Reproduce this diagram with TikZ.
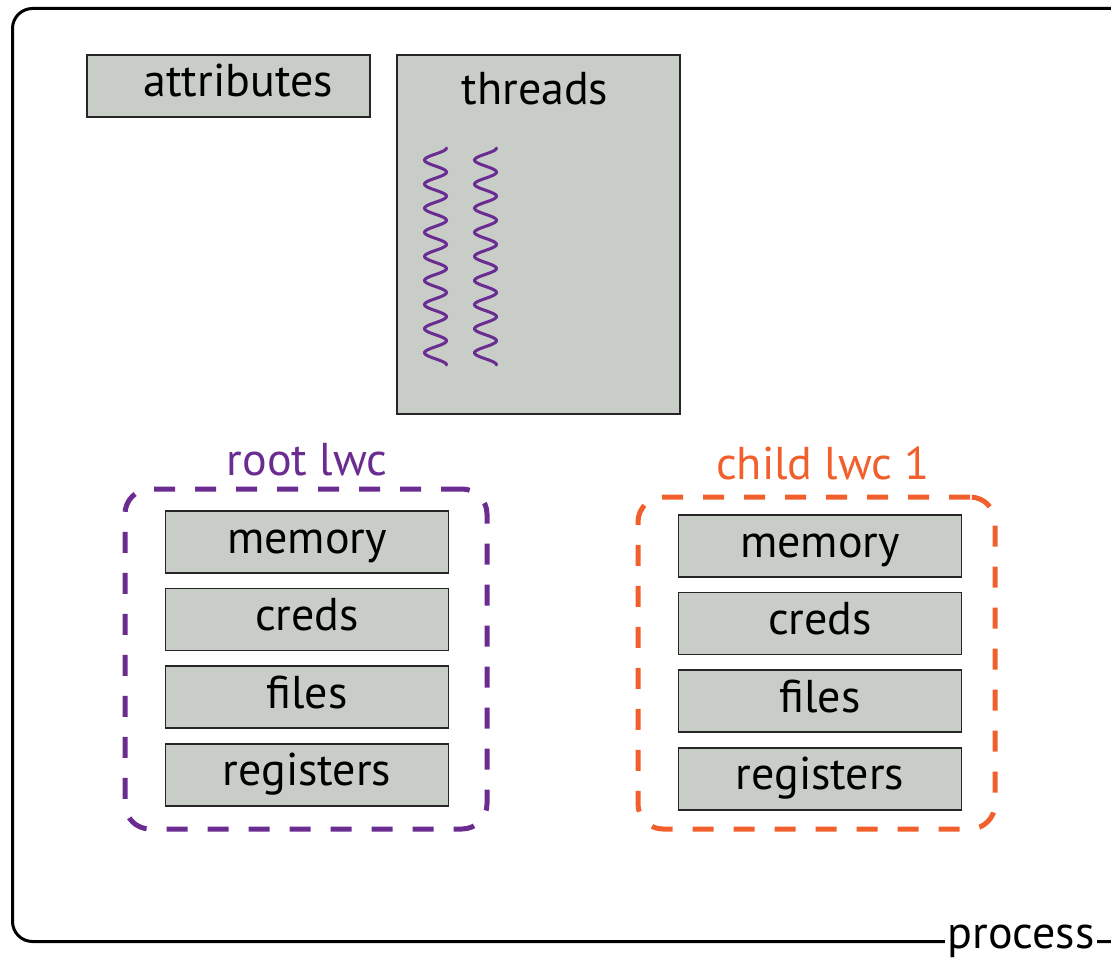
\documentclass[tikz,border=0pt]{standalone}
\usepackage{fontspec}
\setmainfont{PT Sans}
\usetikzlibrary{positioning}
\definecolor{boxgray}{RGB}{200,206,199}
\definecolor{lwcpurple}{RGB}{106,44,145}
\definecolor{lwcorange}{RGB}{241,96,44}
\newcommand{\bigtext}{\fontsize{46}{52}\selectfont}

\begin{document}
\begin{tikzpicture}[x=1pt, y=-1pt,
    part/.style={draw=black!85, line width=1.6pt, fill=boxgray, minimum width=283pt,
      minimum height=62pt, inner sep=0pt, text height=30pt, text depth=8pt, font=\bigtext},
    lwc/.style={line width=5pt, rounded corners=25pt, dash pattern=on 21pt off 20pt, inner sep=0pt},
    lwclabel/.style={anchor=base, inner sep=0pt, font=\bigtext},
    wave/.style={lwcpurple, line width=3pt, line cap=round}]
    \useasboundingbox (0,0) rectangle (1111,960);
    \clip (0,0) rectangle (1111,960);
    % the process
    \node[draw, line width=3pt, rounded corners=20pt, anchor=north west, inner sep=0pt,
      minimum width=1140pt, minimum height=933pt] (proc) at (11,7) {};
    \node[fill=white, anchor=base, inner xsep=3pt, inner ysep=2pt, font=\bigtext] (proclabel) at (1021,948) {process};
    % attributes and threads
    \node[part, anchor=north west, text width=283pt, align=center] (attributes) at (86,54) {\hspace*{20pt}attributes};
    \node[part, anchor=north west, minimum height=359pt] (threads) at (396,54) {};
    \node[lwclabel] (threadslabel) at (535,105) {threads};
    \foreach \cx in {435.5,485.5}
      \draw[wave] plot[domain=0:217, samples=220, smooth] ({\cx+11*cos(14.94*\x)}, {148+\x});
    % root lwc
    \node[lwc, draw=lwcpurple, minimum width=362pt, minimum height=340pt] (rootlwc) at (306,659) {};
    \node[lwclabel, text=lwcpurple] (rootlabel) at (307,475) {root lwc};
    \node[part] (rootmem) at (307,542) {memory};
    \node[part, below=14pt of rootmem] (rootcreds) {creds};
    \node[part, below=14pt of rootcreds] (rootfiles) {files};
    \node[part, below=14pt of rootfiles] (rootregs) {registers};
    % child lwc 1
    \node[lwc, draw=lwcorange, minimum width=357pt, minimum height=332pt] (childlwc) at (816.5,663) {};
    \node[lwclabel, text=lwcorange] (childlabel) at (823,479) {child lwc 1};
    \node[part] (childmem) at (820,546) {memory};
    \node[part, below=14pt of childmem] (childcreds) {creds};
    \node[part, below=14pt of childcreds] (childfiles) {files};
    \node[part, below=14pt of childfiles] (childregs) {registers};
\end{tikzpicture}
\end{document}
